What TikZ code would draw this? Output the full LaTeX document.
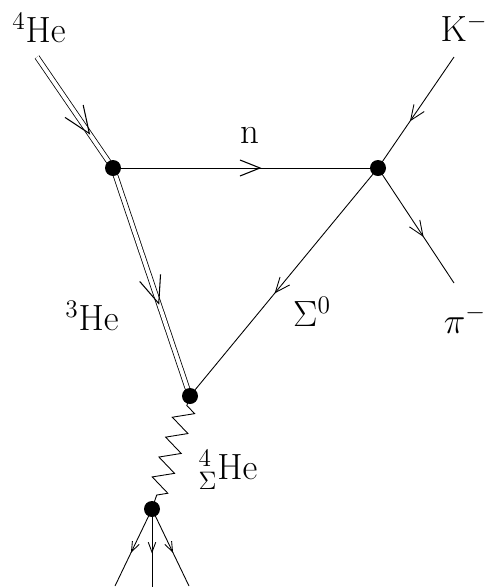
\documentclass[tikz,border=0pt]{standalone}
\usepackage{amsmath,amssymb}
\usepackage{tikz}
\usetikzlibrary{arrows.meta,calc,positioning,decorations.markings,decorations.pathmorphing}

\tikzset{
    prop/.style={line width=0.5pt},
    nucl/.style={line width=0.45pt, double, double distance=2.2pt},
    arr/.style={postaction={decorate}, decoration={markings,
        mark=at position #1 with {\arrow{Straight Barb[length=5.4mm, width=4.4mm, line width=0.6pt]}}}},
    arrmid/.style={postaction={decorate}, decoration={markings,
        mark=at position #1 with {\arrow{Straight Barb[length=4mm, width=3.2mm, line width=0.6pt]}}}},
    arrsmall/.style={postaction={decorate}, decoration={markings,
        mark=at position #1 with {\arrow{Straight Barb[length=3mm, width=2.5mm, line width=0.5pt]}}}},
    arrtiny/.style={postaction={decorate}, decoration={markings,
        mark=at position #1 with {\arrow{Straight Barb[length=2mm, width=1.5mm, line width=0.5pt]}}}},
    blob/.style={fill=black},
    lbl/.style={font=\fontsize{21}{25}\selectfont, inner sep=0pt}
}

\begin{document}
\begin{tikzpicture}
    \useasboundingbox (0,0) rectangle (9.84,-11.74);

    % vertices
    \coordinate (v1) at (2.26,-3.36);
    \coordinate (v2) at (7.56,-3.36);
    \coordinate (v3) at (3.80,-7.92);
    \coordinate (v4) at (3.04,-10.18);

    % free ends
    \coordinate (he4) at (0.74,-1.14);
    \coordinate (kin) at (9.08,-1.14);
    \coordinate (piout) at (9.08,-5.66);
    \coordinate (out1) at (2.30,-11.72);
    \coordinate (out2) at (3.04,-11.74);
    \coordinate (out3) at (3.78,-11.72);

    % labels
    \node[lbl] (lhe4) at (0.78,-0.56) {$^4\mathrm{He}$};
    \node[lbl] (lk) at (9.28,-0.56) {$\mathrm{K}^-$};
    \node[lbl] (ln) at (5.00,-2.70) {n};
    \node[lbl] (lhe3) at (1.84,-6.32) {$^3\mathrm{He}$};
    \node[lbl] (lsig) at (6.24,-6.24) {$\Sigma^0$};
    \node[lbl] (lpi) at (9.30,-6.38) {$\pi^-$};
    \node[lbl] (lhyp) at (4.56,-9.40) {$^4_\Sigma\mathrm{He}$};

    % nucleus lines
    \draw[nucl, arr=0.7] (he4) -- (v1);
    \draw[nucl, arr=0.6] (v1) -- (v3);

    % single lines
    \draw[prop, arrmid=0.56] (v1) -- (v2);
    \draw[prop, arrsmall=0.58] (kin) -- (v2);
    \draw[prop, arrsmall=0.6] (v2) -- (piout);
    \draw[prop, arrsmall=0.55] (v2) -- (v3);

    % hypernucleus
    \draw[prop, decorate, decoration={zigzag, segment length=0.42cm, amplitude=0.2cm,
        pre length=0.2cm, post length=0.2cm}] (v3) -- (v4);

    % decay products
    \draw[prop, arrtiny=0.57] (v4) -- (out1);
    \draw[prop, arrtiny=0.57] (v4) -- (out2);
    \draw[prop, arrtiny=0.57] (v4) -- (out3);

    % blobs
    \foreach \v in {v1,v2,v3,v4}
        \fill[blob] (\v) circle (0.16);
\end{tikzpicture}
\end{document}
